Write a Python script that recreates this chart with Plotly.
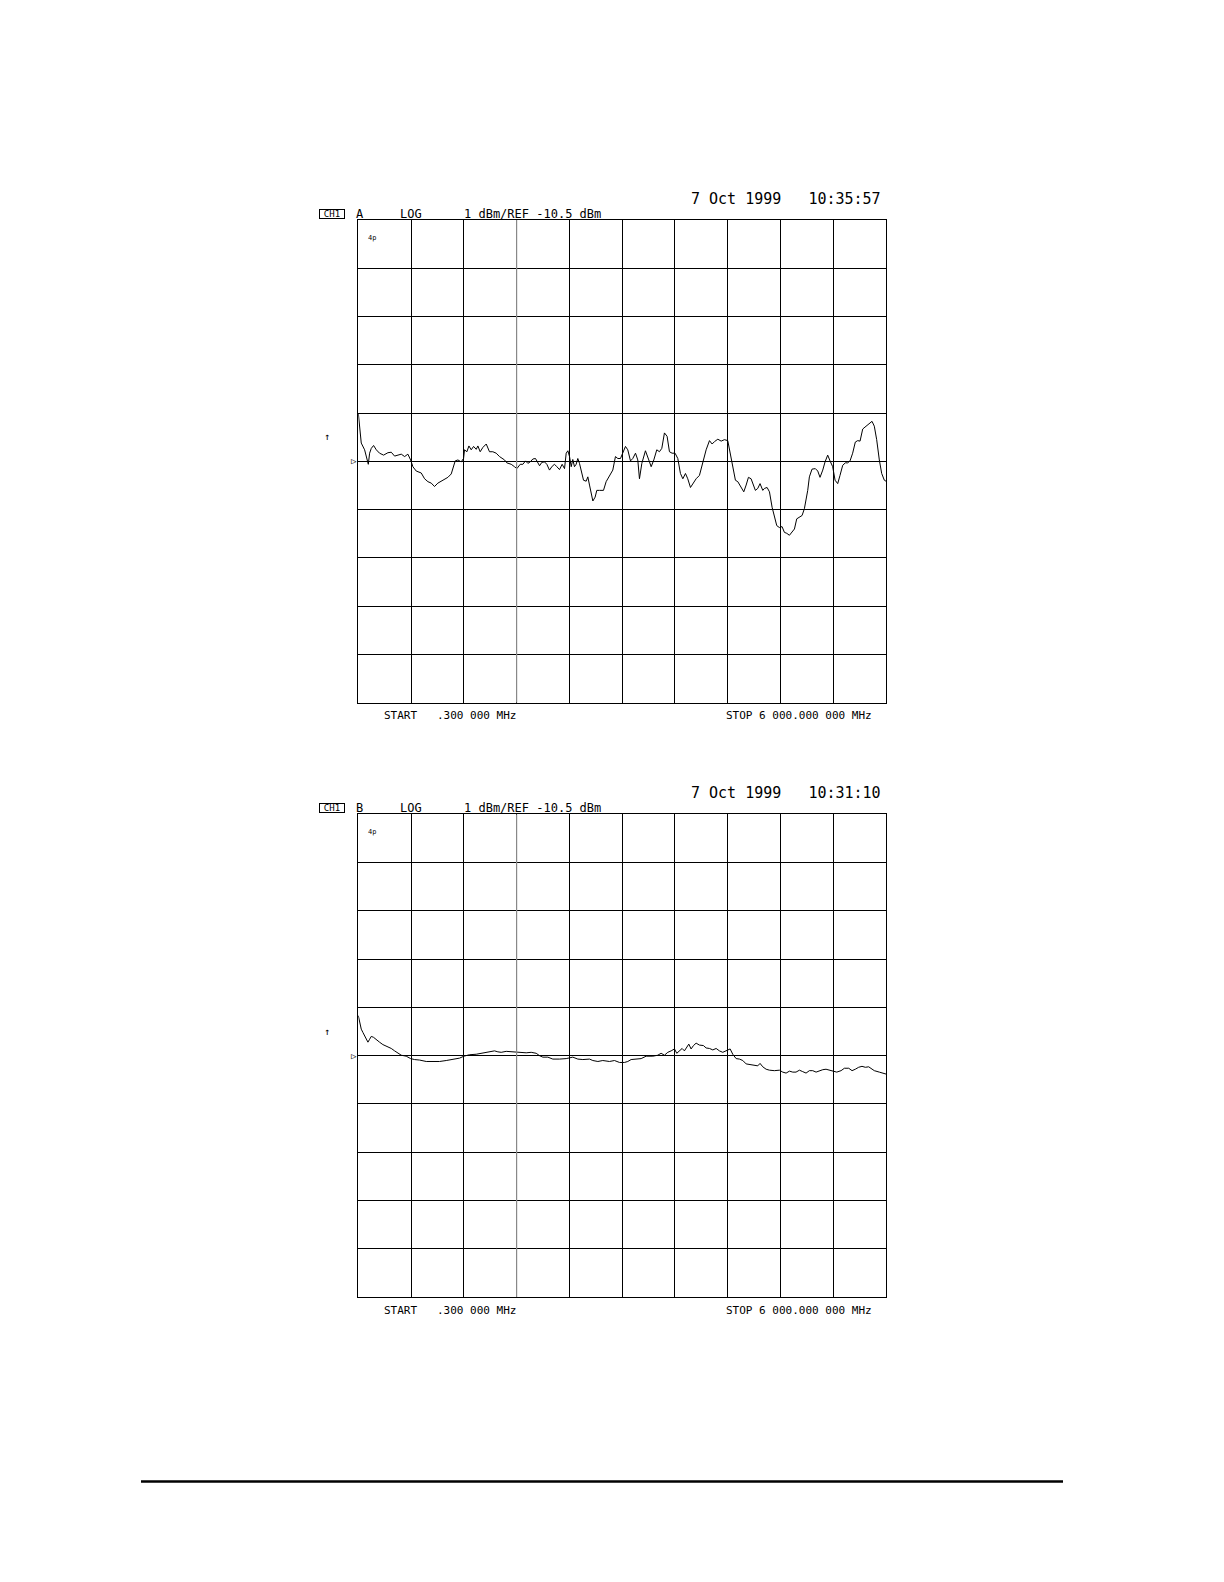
import plotly.graph_objects as go

# ---------------- data ----------------
START_MHZ = 0.3
STOP_MHZ = 6000.0
REF_DBM = -10.5
DB_PER_DIV = 1.0
N_DIV = 10

TOP_FREQ_MHZ = [0.3, 15, 34, 72, 110, 114, 129, 148, 174, 205, 242, 288, 337, 375, 413, 451, 489, 527, 564, 595,
                621, 659, 716, 754, 792, 830, 867, 905, 943, 981, 1019, 1057, 1076, 1102, 1133, 1170, 1197, 1208,
                1235, 1258, 1284, 1311, 1341, 1360, 1386, 1417, 1455, 1492, 1530, 1568, 1606, 1636, 1663, 1689,
                1739, 1776, 1803, 1841, 1871, 1902, 1928, 1955, 1985, 2015, 2042, 2061, 2087, 2117, 2144, 2174,
                2205, 2231, 2258, 2288, 2318, 2345, 2364, 2383, 2402, 2421, 2439, 2458, 2477, 2496, 2515, 2534,
                2561, 2591, 2610, 2629, 2648, 2667, 2693, 2712, 2743, 2788, 2818, 2856, 2894, 2924, 2951, 2981,
                3008, 3038, 3064, 3095, 3121, 3152, 3178, 3197, 3224, 3265, 3303, 3330, 3360, 3394, 3424, 3451,
                3481, 3511, 3538, 3568, 3602, 3633, 3663, 3690, 3720, 3746, 3777, 3803, 3841, 3879, 3917, 3955,
                3993, 4023, 4050, 4088, 4126, 4163, 4201, 4228, 4258, 4288, 4315, 4353, 4383, 4410, 4436, 4466,
                4493, 4515, 4542, 4568, 4599, 4618, 4648, 4675, 4705, 4731, 4758, 4788, 4818, 4845, 4872, 4902,
                4932, 4959, 4985, 5016, 5046, 5072, 5110, 5129, 5159, 5197, 5224, 5250, 5281, 5307, 5337, 5364,
                5394, 5421, 5451, 5477, 5508, 5538, 5564, 5591, 5621, 5651, 5678, 5705, 5735, 5761, 5792, 5818,
                5841, 5867, 5894, 5924, 5951, 5981, 6000]
TOP_LEVEL_DBM = [-9.50, -9.77, -10.12, -10.26, -10.54, -10.56, -10.33, -10.23, -10.17, -10.26, -10.33, -10.37,
                 -10.32, -10.31, -10.39, -10.37, -10.35, -10.40, -10.35, -10.47, -10.61, -10.70, -10.74, -10.86,
                 -10.92, -10.95, -11.02, -10.95, -10.91, -10.86, -10.83, -10.76, -10.65, -10.49, -10.47, -10.51,
                 -10.44, -10.26, -10.30, -10.18, -10.26, -10.19, -10.25, -10.18, -10.30, -10.21, -10.14, -10.30,
                 -10.30, -10.33, -10.40, -10.44, -10.47, -10.53, -10.56, -10.61, -10.65, -10.56, -10.56, -10.49,
                 -10.54, -10.51, -10.45, -10.44, -10.54, -10.59, -10.52, -10.51, -10.56, -10.68, -10.60, -10.56,
                 -10.61, -10.67, -10.56, -10.65, -10.33, -10.28, -10.40, -10.61, -10.46, -10.61, -10.56, -10.44,
                 -10.54, -10.68, -10.89, -10.91, -10.82, -10.99, -11.17, -11.32, -11.24, -11.10, -11.10, -11.10,
                 -10.92, -10.79, -10.68, -10.40, -10.44, -10.44, -10.30, -10.19, -10.26, -10.49, -10.44, -10.33,
                 -10.47, -10.86, -10.54, -10.28, -10.47, -10.61, -10.47, -10.26, -10.30, -10.23, -9.91, -9.98,
                 -10.30, -10.33, -10.33, -10.44, -10.75, -10.86, -10.75, -10.86, -11.04, -10.96, -10.86, -10.79,
                 -10.54, -10.26, -10.07, -10.14, -10.09, -10.04, -10.08, -10.05, -10.07, -10.33, -10.65, -10.89,
                 -10.92, -11.03, -11.13, -10.99, -10.83, -10.86, -10.99, -11.10, -11.06, -10.96, -11.10, -11.06,
                 -11.04, -11.13, -11.45, -11.66, -11.83, -11.87, -11.85, -11.97, -11.99, -12.03, -11.97, -11.90,
                 -11.69, -11.66, -11.62, -11.48, -11.10, -10.82, -10.66, -10.65, -10.70, -10.83, -10.68, -10.51,
                 -10.37, -10.49, -10.61, -10.89, -10.96, -10.79, -10.58, -10.53, -10.53, -10.49, -10.33, -10.10,
                 -10.07, -10.08, -9.83, -9.79, -9.75, -9.71, -9.67, -9.77, -10.05, -10.47, -10.75, -10.89, -10.91]

BOT_FREQ_MHZ = [0.3, 15, 34, 53, 72, 110, 129, 148, 174, 205, 242, 280, 337, 375, 413, 451, 489, 545, 595, 640,
                697, 773, 849, 924, 1000, 1076, 1152, 1201, 1265, 1341, 1417, 1492, 1549, 1587, 1625, 1682, 1739,
                1796, 1852, 1909, 1966, 2023, 2061, 2099, 2155, 2212, 2288, 2364, 2439, 2496, 2553, 2629, 2667,
                2724, 2780, 2837, 2856, 2913, 2970, 3027, 3064, 3102, 3159, 3216, 3273, 3349, 3405, 3443, 3481,
                3519, 3557, 3595, 3621, 3652, 3682, 3708, 3735, 3758, 3784, 3811, 3841, 3879, 3924, 3955, 3993,
                4031, 4069, 4106, 4144, 4182, 4228, 4258, 4296, 4334, 4372, 4410, 4466, 4504, 4542, 4568, 4599,
                4637, 4675, 4731, 4788, 4826, 4864, 4902, 4940, 4977, 5016, 5053, 5091, 5129, 5167, 5205, 5243,
                5281, 5318, 5356, 5394, 5440, 5489, 5527, 5576, 5614, 5651, 5689, 5727, 5765, 5803, 5830, 5867,
                5924, 5962, 6000]
BOT_LEVEL_DBM = [-9.67, -9.81, -9.95, -10.02, -10.09, -10.22, -10.16, -10.10, -10.12, -10.17, -10.22, -10.27,
                 -10.31, -10.35, -10.40, -10.44, -10.49, -10.51, -10.56, -10.58, -10.59, -10.62, -10.62, -10.62,
                 -10.60, -10.57, -10.55, -10.51, -10.48, -10.47, -10.45, -10.43, -10.40, -10.42, -10.43, -10.41,
                 -10.42, -10.43, -10.43, -10.44, -10.43, -10.45, -10.50, -10.53, -10.53, -10.57, -10.57, -10.56,
                 -10.53, -10.57, -10.58, -10.57, -10.60, -10.62, -10.60, -10.62, -10.62, -10.60, -10.64, -10.64,
                 -10.62, -10.58, -10.57, -10.56, -10.51, -10.51, -10.49, -10.45, -10.49, -10.43, -10.40, -10.36,
                 -10.45, -10.40, -10.35, -10.40, -10.31, -10.26, -10.36, -10.29, -10.24, -10.28, -10.29, -10.34,
                 -10.35, -10.38, -10.35, -10.40, -10.43, -10.40, -10.36, -10.47, -10.56, -10.57, -10.60, -10.67,
                 -10.69, -10.71, -10.71, -10.66, -10.73, -10.78, -10.80, -10.81, -10.80, -10.84, -10.86, -10.82,
                 -10.84, -10.84, -10.80, -10.83, -10.86, -10.81, -10.81, -10.84, -10.81, -10.79, -10.78, -10.80,
                 -10.83, -10.84, -10.81, -10.76, -10.76, -10.81, -10.78, -10.74, -10.72, -10.74, -10.73, -10.76,
                 -10.81, -10.84, -10.86, -10.88]

CHANNEL_LABELS = ["A", "B"]
TIMESTAMPS = ["7 Oct 1999   10:35:57", "7 Oct 1999   10:31:10"]
SCALE_TEXT = "1 dBm/REF -10.5 dBm"
FORMAT_TEXT = "LOG"
START_TEXT = "START"
START_VAL_TEXT = ".300 000 MHz"
STOP_TEXT = "STOP 6 000.000 000 MHz"

# ---------------- layout helpers ----------------
PAGE_W, PAGE_H = 1224, 1582
BODY_MARGIN = 8   # default page body margin
W, H = PAGE_W - 2 * BODY_MARGIN, PAGE_H - 2 * BODY_MARGIN
def PX(x):
    return (x - BODY_MARGIN) / W
def PY(y):
    return 1 - (y - BODY_MARGIN) / H

LEFT, RIGHT = 358.3, 886.0
PLOT_TOPS = [220.0, 814.3]
PLOT_H = 482.8
MONO = "DejaVu Sans Mono"

span = STOP_MHZ - START_MHZ
xdiv = span / N_DIV
y_lo = REF_DBM - DB_PER_DIV * N_DIV / 2
y_hi = REF_DBM + DB_PER_DIV * N_DIV / 2

fig = go.Figure()
fig.add_trace(go.Scatter(x=TOP_FREQ_MHZ, y=TOP_LEVEL_DBM, mode="lines",
                         line=dict(color="black", width=1), xaxis="x", yaxis="y", showlegend=False,
                         hoverinfo="skip"))
fig.add_trace(go.Scatter(x=BOT_FREQ_MHZ, y=BOT_LEVEL_DBM, mode="lines",
                         line=dict(color="black", width=1), xaxis="x2", yaxis="y2", showlegend=False,
                         hoverinfo="skip"))

axis_common = dict(showline=True, mirror=True, linecolor="black", linewidth=1,
                   showgrid=True, gridcolor="black", gridwidth=1, zeroline=False,
                   showticklabels=False, ticks="", fixedrange=True)

layout = dict(width=W, height=H, margin=dict(l=0, r=0, t=0, b=0),
              paper_bgcolor="white", plot_bgcolor="white", showlegend=False)

annotations = []
shapes = []
for i, top in enumerate(PLOT_TOPS):
    sfx = "" if i == 0 else "2"
    bottom = top + PLOT_H
    layout["xaxis" + sfx] = dict(axis_common, range=[START_MHZ, STOP_MHZ], tick0=START_MHZ, dtick=xdiv,
                                 domain=[PX(LEFT), PX(RIGHT)], anchor="y" + sfx)
    layout["yaxis" + sfx] = dict(axis_common, range=[y_lo, y_hi], tick0=REF_DBM, dtick=DB_PER_DIV,
                                 domain=[PY(bottom), PY(top)], anchor="x" + sfx)
    # lighter grid line (3rd vertical division)
    shapes.append(dict(type="line", xref="x" + sfx, yref="y" + sfx,
                       x0=START_MHZ + 3 * xdiv, x1=START_MHZ + 3 * xdiv, y0=y_lo, y1=y_hi,
                       line=dict(color="#8a8a8a", width=1.2), layer="above"))

    def ann(text, x, y, size, xanchor="left", **kw):
        d = dict(text=text, x=PX(x), y=PY(y), xref="paper", yref="paper", showarrow=False,
                 xanchor=xanchor, yanchor="middle", font=dict(family=MONO, size=size, color="black"))
        d.update(kw)
        annotations.append(d)

    ann(TIMESTAMPS[i], 689, top - 21.5, 15)
    ann("CH1", 331.5, top - 6.3, 9, xanchor="center", bordercolor="black", borderwidth=1,
        borderpad=0, width=24, height=8)
    ann(CHANNEL_LABELS[i], 354, top - 6.0, 12)
    ann(FORMAT_TEXT, 398, top - 6.0, 12)
    ann(SCALE_TEXT, 462, top - 6.0, 12)
    ann("4p", 366, top + 18, 7)
    ann("↑", 327, top + 217, 10, xanchor="center")
    ann("▷", LEFT + 0.5, top + PLOT_H / 2, 9, xanchor="right")
    ann(START_TEXT, 382, bottom + 13, 11)
    ann(START_VAL_TEXT, 435, bottom + 13, 11)
    ann(STOP_TEXT, 724, bottom + 13, 11)

# page separator rule
shapes.append(dict(type="line", xref="paper", yref="paper", x0=PX(141), x1=PX(1063),
                   y0=PY(1481.5), y1=PY(1481.5), line=dict(color="black", width=2.5)))

layout["annotations"] = annotations
layout["shapes"] = shapes
fig.update_layout(**layout)
fig.write_html("out.html")
